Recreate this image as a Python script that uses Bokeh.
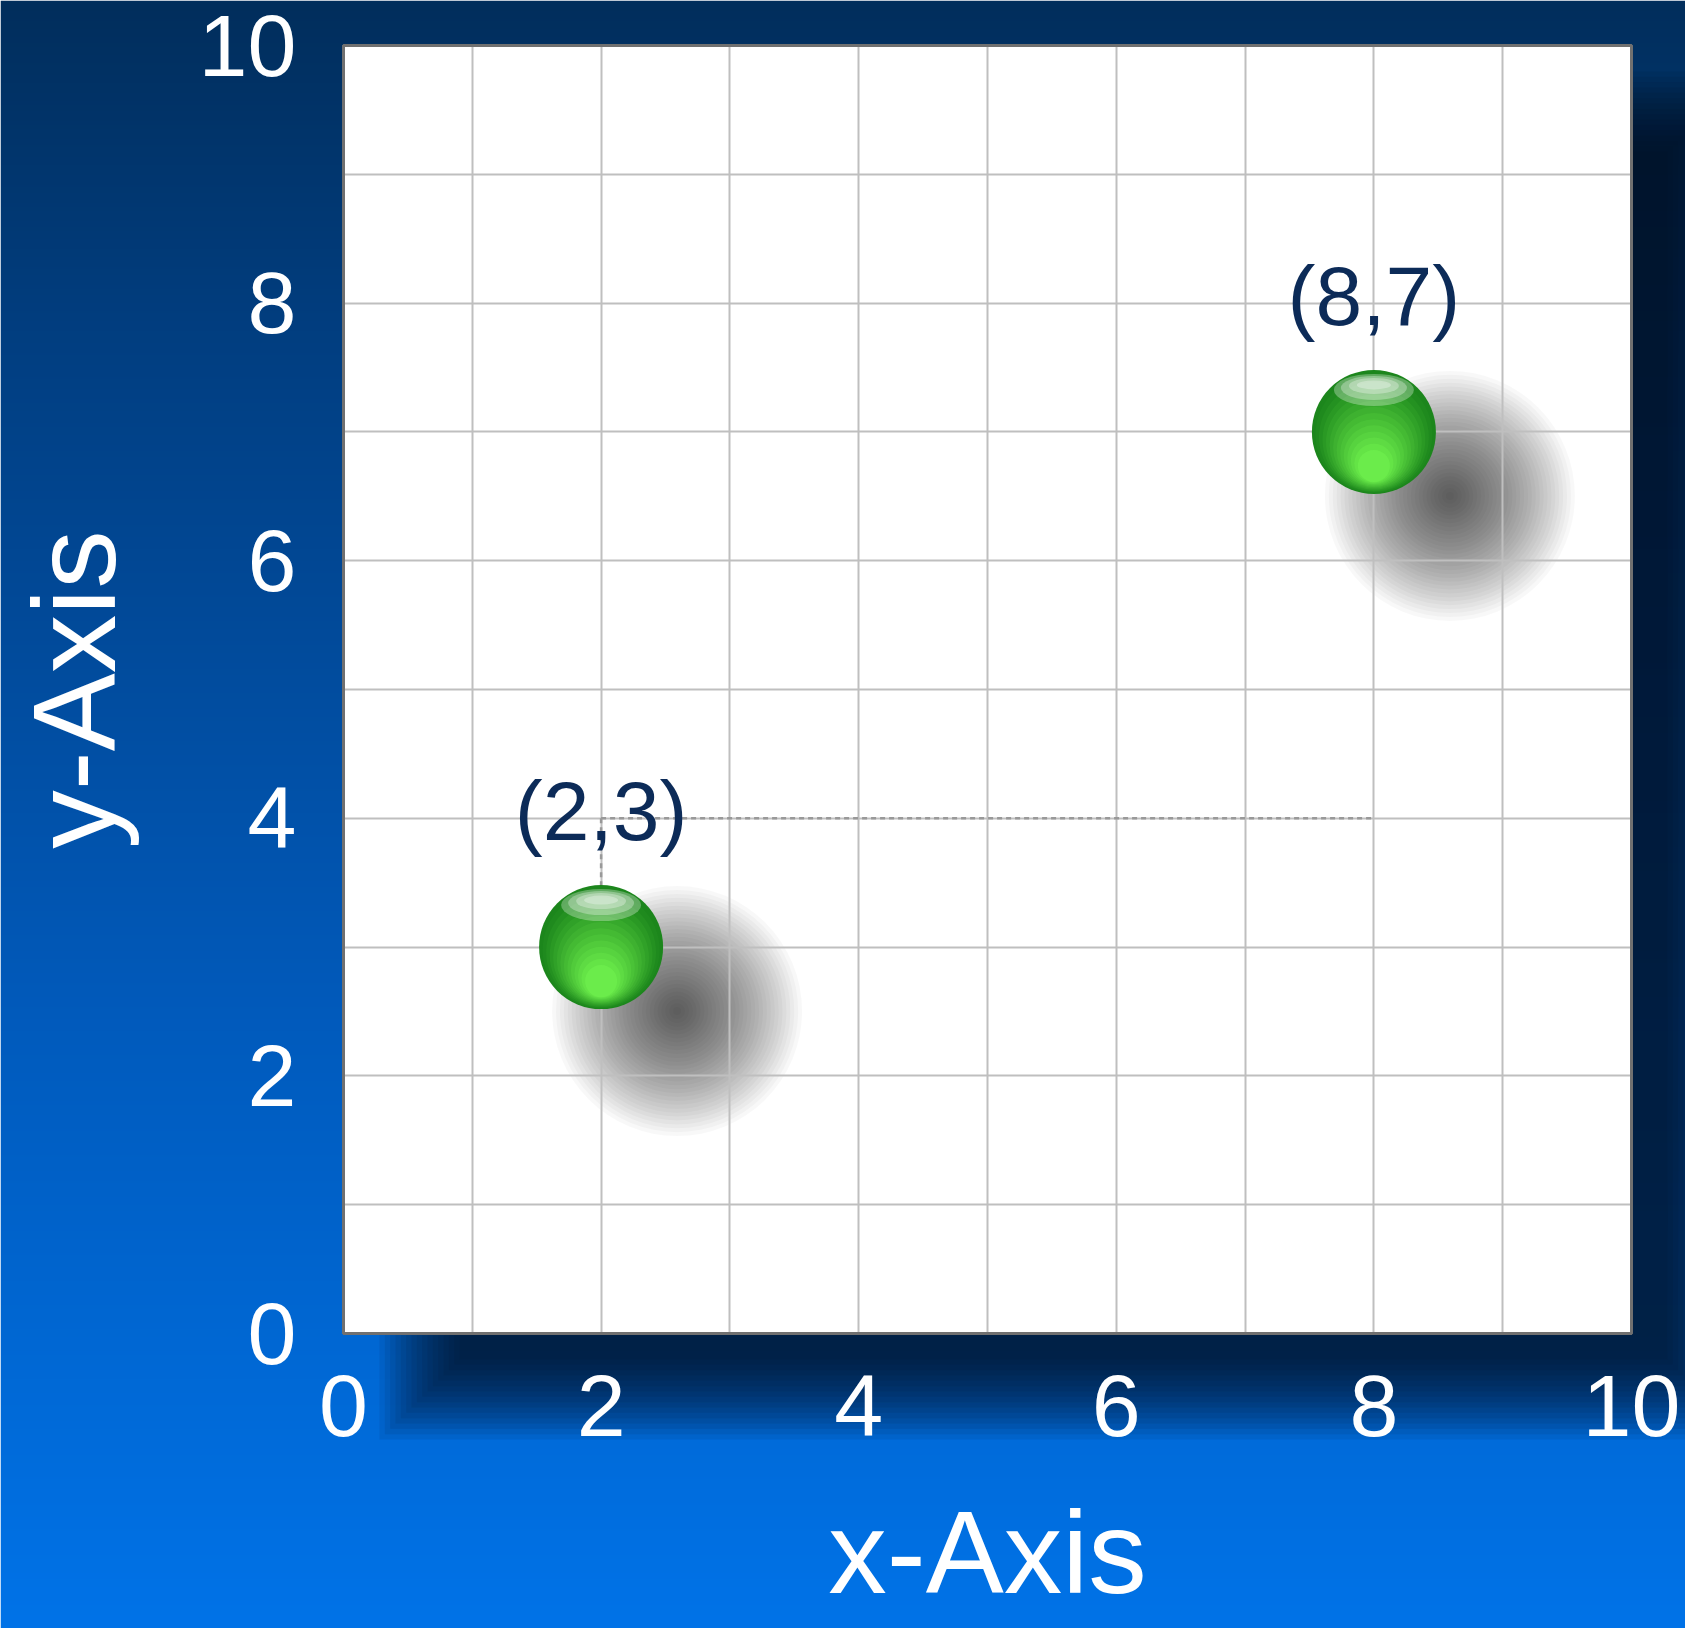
import numpy as np
from bokeh.plotting import figure
from bokeh.models import Range1d, FixedTicker, SingleIntervalTicker
from bokeh.core.properties import value
from bokeh.embed import file_html
from bokeh.resources import INLINE

# ---------------- data ----------------
point_x = [2, 8]
point_y = [3, 7]
point_labels = [f"({x},{y})" for x, y in zip(point_x, point_y)]
x_ticks = [0, 2, 4, 6, 8, 10]
y_ticks = [0, 2, 4, 6, 8, 10]
axis_bounds = (0, 10)
guide_x0 = [2, 2]
guide_y0 = [4, 4]
guide_x1 = [8, 2]
guide_y1 = [4, 3]

# ---------------- layout ----------------
W, H = 1685, 1628
UNIT = 128.8          # pixels per data unit
LEFT, TOP = 343, 45   # pixel position of data (0, 10)
xs0 = -LEFT / UNIT
xs1 = (W - LEFT) / UNIT
ys1 = axis_bounds[1] + TOP / UNIT
ys0 = ys1 - H / UNIT

p = figure(width=W, height=H, x_range=Range1d(xs0, xs1), y_range=Range1d(ys0, ys1),
           output_backend="svg", toolbar_location=None, min_border=0,
           outline_line_color=None, background_fill_color=None, border_fill_color=None)

# ---------------- background gradient ----------------
stops_y = np.array([0, 330, 1030, 1628])
stops_rgb = np.array([(1, 46, 92), (2, 62, 128), (1, 91, 189), (0, 115, 232)], dtype=float)
nrows = H // 2
rows_px = H - (np.arange(nrows) + 0.5) * (H / nrows)   # from bottom to top, px from top
img = np.zeros((nrows, 2), dtype=np.uint32)
view = img.view(dtype=np.uint8).reshape((nrows, 2, 4))
for c in range(3):
    view[:, :, c] = np.interp(rows_px, stops_y, stops_rgb[:, c])[:, None].astype(np.uint8)
view[:, :, 3] = 255
p.image_rgba(image=[img], x=xs0, y=ys0, dw=xs1 - xs0, dh=ys1 - ys0, level="image")

# ---------------- frame drop shadow ----------------
off_x = 76 / UNIT
off_y = 66 / UNIT
for e in np.linspace(-40, 40, 16):
    d = e / UNIT
    p.quad(left=axis_bounds[0] + off_x - d, right=axis_bounds[1] + off_x + d,
           bottom=axis_bounds[0] - off_y - d, top=axis_bounds[1] - off_y + d,
           fill_color="#000814", fill_alpha=0.078, line_color=None, level="image")

# white plotting area
p.quad(left=axis_bounds[0], right=axis_bounds[1], bottom=axis_bounds[0], top=axis_bounds[1],
       fill_color="white", line_color=None, level="image")

# ---------------- ball shadows ----------------
sx = [x + 76 / UNIT for x in point_x]
sy = [y - 64 / UNIT for y in point_y]
for r in np.linspace(125, 4, 32):
    p.circle(x=sx, y=sy, radius=r, radius_units="screen", fill_color="black",
             fill_alpha=0.028, line_color=None, level="image")

# ---------------- grid ----------------
try:
    for g in (p.xgrid[0], p.ygrid[0]):
        g.ticker = SingleIntervalTicker(interval=1)
        g.bounds = axis_bounds
        g.cross_bounds = axis_bounds
        g.grid_line_color = "#bfbfbf"
        g.grid_line_width = 2
except AttributeError:
    p.xgrid.visible = False
    p.ygrid.visible = False
    gv = np.arange(axis_bounds[0], axis_bounds[1] + 1)
    p.segment(x0=gv, y0=axis_bounds[0], x1=gv, y1=axis_bounds[1], line_color="#bfbfbf",
              line_width=2, level="underlay")
    p.segment(x0=axis_bounds[0], y0=gv, x1=axis_bounds[1], y1=gv, line_color="#bfbfbf",
              line_width=2, level="underlay")

# frame border
p.quad(left=axis_bounds[0], right=axis_bounds[1], bottom=axis_bounds[0], top=axis_bounds[1],
       fill_color=None, line_color="#707070", line_width=3)

# dotted guides
p.segment(x0=guide_x0, y0=guide_y0, x1=guide_x1, y1=guide_y1, line_color="#999999",
          line_width=2.5, line_dash="5 4")

# ---------------- glossy balls ----------------
n_layers = 14
c0 = np.array([28, 134, 28])
c1 = np.array([112, 242, 78])
for i in range(n_layers):
    t = i / (n_layers - 1)
    r = 62 - 46 * t
    dy = 34 * t
    col = c0 + (c1 - c0) * t
    hexc = "#%02x%02x%02x" % tuple(int(v) for v in col)
    p.circle(x=point_x, y=[y - dy / UNIT for y in point_y], radius=r, radius_units="screen",
             fill_color=hexc, fill_alpha=1.0 if i == 0 else 0.6, line_color=None)
for wdt, hgt, dy in [(80, 32, 42), (66, 24, 44), (50, 16, 46), (34, 9, 47)]:
    p.ellipse(x=point_x, y=[y + dy / UNIT for y in point_y], width=wdt, height=hgt,
              width_units="screen", height_units="screen", fill_color="white",
              fill_alpha=0.3, line_color=None)

# ---------------- point labels ----------------
p.text(x=point_x, y=point_y, text=point_labels, text_font=value("Liberation Sans"),
       text_font_size="84px", text_color="#0c2b58", text_align="center",
       text_baseline="alphabetic", y_offset=-136)

# ---------------- axes ----------------
xa = p.xaxis[0]
ya = p.yaxis[0]
xa.ticker = FixedTicker(ticks=x_ticks)
ya.ticker = FixedTicker(ticks=y_ticks)
for ax in (xa, ya):
    ax.fixed_location = 0
    ax.bounds = axis_bounds
    ax.axis_line_color = "#707070"
    ax.axis_line_width = 3
    ax.major_tick_line_color = None
    ax.minor_tick_line_color = None
    ax.major_tick_in = 0
    ax.major_tick_out = 0
    ax.major_label_text_font = "Liberation Sans"
    ax.major_label_text_font_size = "88px"
    ax.major_label_text_color = "white"
    ax.axis_label_text_font = "Liberation Sans"
    ax.axis_label_text_font_size = "117px"
    ax.axis_label_text_font_style = "normal"
    ax.axis_label_text_color = "white"
xa.axis_label = "x-Axis"
ya.axis_label = "y-Axis"
xa.major_label_standoff = 42
ya.major_label_standoff = 47
xa.axis_label_standoff = 48
ya.axis_label_standoff = 56

open("out.html", "w").write(file_html(p, INLINE))
